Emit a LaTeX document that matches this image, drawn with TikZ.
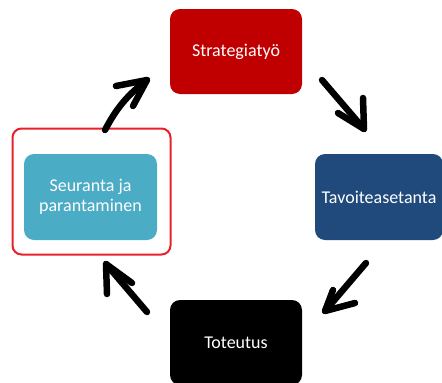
\documentclass[tikz,border=0pt]{standalone}
\usepackage{fontspec}
\setmainfont{Carlito}
\begin{document}
\definecolor{stratred}{HTML}{C00000}
\definecolor{goalblue}{HTML}{214A7C}
\definecolor{followcyan}{HTML}{4BACC6}
\definecolor{framered}{HTML}{E8202A}
\begin{tikzpicture}[x=1pt,y=-1pt,
  phase/.style={rounded corners=10pt, text=white, font=\fontsize{18}{20}\selectfont,
    align=center, inner sep=0pt, minimum width=132pt, minimum height=85pt},
  bigarrow/.style={line width=6.5pt, line cap=round, line join=round, black}]
\useasboundingbox (0,0) rectangle (442,383);
\begin{scope}
\clip (0,0) rectangle (442,383);
% phases of the cycle
\node[phase, fill=stratred] (strat) at (236,51.5) {Strategiatyö};
\node[phase, fill=goalblue, minimum width=128pt, minimum height=86pt] (goal) at (379,197) {Tavoiteasetanta};
\node[phase, fill=black, minimum height=85pt] (impl) at (236,342.5) {Toteutus};
\node[phase, fill=followcyan, minimum width=133pt, minimum height=86pt] (follow) at (90.5,197) {Seuranta ja\\parantaminen};
% highlight frame
\node[draw=framered, line width=2pt, rounded corners=9pt, minimum width=158pt, minimum height=126pt, inner sep=0pt] (frame) at (91.5,191.5) {};
\end{scope}
% arrow end points
\coordinate (a1s) at (105,130); \coordinate (a1t) at (147,80);
\coordinate (a1u) at (116,86);  \coordinate (a1d) at (133,106);
\coordinate (a2s) at (322,80);  \coordinate (a2t) at (364,129);
\coordinate (a2u) at (363,98);  \coordinate (a2l) at (338,113);
\coordinate (a3s) at (366,263); \coordinate (a3t) at (325,311);
\coordinate (a3u) at (333,290); \coordinate (a3r) at (355,303);
\coordinate (a4s) at (147,312); \coordinate (a4t) at (106,264);
\coordinate (a4d) at (107,294); \coordinate (a4r) at (132,283);
% arrows between phases
\draw[bigarrow] (a1s) to[bend left=12] (a1t);
\draw[bigarrow] (a1u) -- (a1t) -- (a1d);
\draw[bigarrow] (a2s) -- (a2t);
\draw[bigarrow] (a2u) -- (a2t) -- (a2l);
\draw[bigarrow] (a3s) -- (a3t);
\draw[bigarrow] (a3u) -- (a3t) -- (a3r);
\draw[bigarrow] (a4s) -- (a4t);
\draw[bigarrow] (a4d) -- (a4t) -- (a4r);
\end{tikzpicture}
\end{document}
